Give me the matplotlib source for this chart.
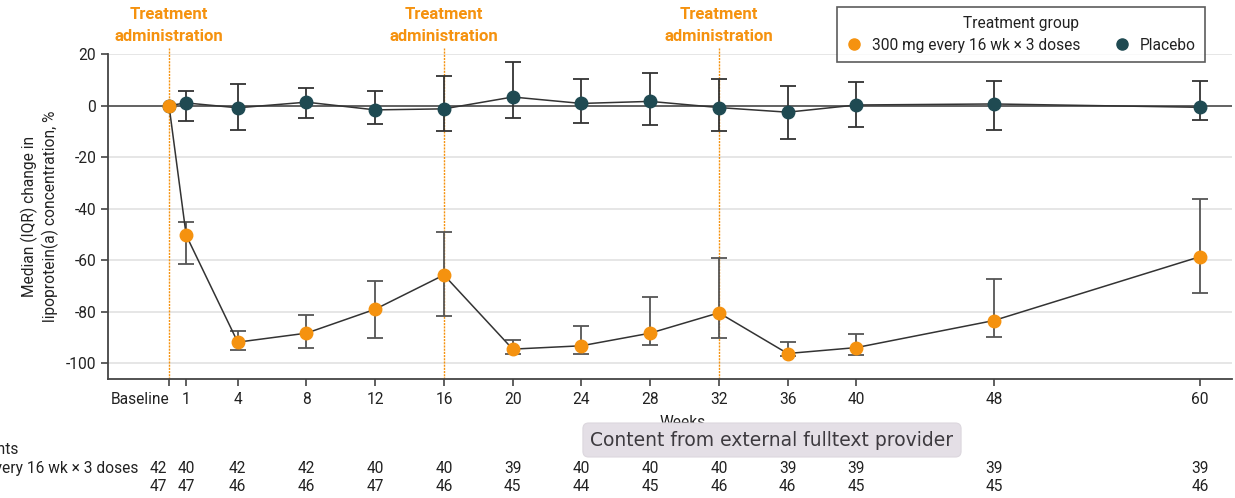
import matplotlib
matplotlib.use('Agg')
import matplotlib.pyplot as plt
import matplotlib.transforms as mtransforms
import numpy as np
from matplotlib.lines import Line2D

# ---------------- data ----------------
weeks = [0, 1, 4, 8, 12, 16, 20, 24, 28, 32, 36, 40, 48, 60]
week_labels = ['Baseline', '1', '4', '8', '12', '16', '20', '24', '28', '32', '36', '40', '48', '60']

trt_median = [0, -50.4, -91.9, -88.4, -79.1, -65.8, -94.6, -93.3, -88.4, -80.5, -96.3, -94.0, -83.5, -58.7]
trt_q1 = [np.nan, -61.6, -95.1, -94.2, -90.2, -81.6, -96.5, -96.4, -93.0, -90.2, -97.3, -96.9, -89.7, -72.8]
trt_q3 = [np.nan, -45.3, -87.5, -81.4, -68.1, -49.2, -91.0, -85.8, -74.3, -59.2, -92.0, -88.9, -67.4, -36.2]

pbo_median = [0, 1.0, -0.9, 1.3, -1.7, -1.3, 3.3, 0.8, 1.6, -0.8, -2.6, 0.2, 0.6, -0.7]
pbo_q1 = [np.nan, -6.1, -9.6, -4.8, -7.0, -9.8, -4.8, -6.9, -7.6, -10.0, -13.2, -8.3, -9.5, -5.7]
pbo_q3 = [np.nan, 5.5, 8.4, 6.7, 5.5, 11.6, 16.7, 10.2, 12.5, 10.3, 7.5, 9.0, 9.5, 9.4]

dose_weeks = [0, 16, 32]
trt_n = [42, 40, 42, 42, 40, 40, 39, 40, 40, 40, 39, 39, 39, 39]
pbo_n = [47, 47, 46, 46, 47, 46, 45, 44, 45, 46, 46, 45, 45, 46]

yticks = [20, 0, -20, -40, -60, -80, -100]
trt_name = '300 mg every 16 wk \u00d7 3 doses'
pbo_name = 'Placebo'

# ---------------- style ----------------
plt.rcParams['font.family'] = ['Roboto', 'DejaVu Sans']
FS = 11.2

ORANGE = '#F5920F'
TEAL = '#1F4A52'
TXT = '#222222'

W, H = 1235, 498
fig = plt.figure(figsize=(W / 100, H / 100), dpi=100)
ax = fig.add_axes([108 / W, 1 - 379 / H, (1232 - 108) / W, (379 - 54) / H])

ax.set_xlim(-3.55, 61.86)
ax.set_ylim(-106.2, 20)

# grid
for yv in yticks:
    if yv == 0:
        ax.axhline(0, color='#555555', lw=1.3, zorder=1)
    else:
        ax.axhline(yv, color='#e6e6e6', lw=1.4, zorder=0)

# dose lines and labels
tf = mtransforms.blended_transform_factory(ax.transData, fig.transFigure)
for dw in dose_weeks:
    ax.plot([dw, dw], [-106.2, 22.3], color=ORANGE, lw=1.0, ls=(0, (1.5, 0.8)),
            zorder=1.5, clip_on=False)
    ax.text(dw, 1 - 7 / H, 'Treatment\nadministration', transform=tf,
            ha='center', va='top', color=ORANGE, fontsize=12, fontweight='bold',
            linespacing=1.55)

# placebo series
pm = np.array(pbo_median)
ax.errorbar(weeks, pbo_median, yerr=[pm - np.array(pbo_q1), np.array(pbo_q3) - pm],
            fmt='none', ecolor='#333333', elinewidth=1.3, capsize=5.5, capthick=1.3, zorder=3)
ax.plot(weeks, pbo_median, color='#333333', lw=1.1, zorder=3)
ax.plot(weeks, pbo_median, 'o', color=TEAL, ms=9, mec=TEAL, zorder=4)

# treatment series
tm = np.array(trt_median)
ax.errorbar(weeks, trt_median, yerr=[tm - np.array(trt_q1), np.array(trt_q3) - tm],
            fmt='none', ecolor='#555555', elinewidth=1.3, capsize=5.5, capthick=1.3, zorder=3)
ax.plot(weeks, trt_median, color='#333333', lw=1.1, zorder=3)
ax.plot(weeks, trt_median, 'o', color=ORANGE, ms=9, mec=ORANGE, zorder=5)

# axes cosmetics
for s in ['top', 'right']:
    ax.spines[s].set_visible(False)
for s in ['left', 'bottom']:
    ax.spines[s].set_color('#444444')
    ax.spines[s].set_linewidth(1.3)
ax.set_yticks(yticks)
ax.set_yticklabels([str(v) for v in yticks])
ax.set_xticks(weeks)
ax.set_xticklabels(week_labels)
ax.get_xticklabels()[0].set_ha('right')
ax.tick_params(axis='both', colors='#444444', labelcolor=TXT, labelsize=FS, width=1.2, length=5)
ax.tick_params(axis='x', pad=4)
ax.set_ylabel('Median (IQR) change in\nlipoprotein(a) concentration, %', fontsize=FS,
              color=TXT, labelpad=5, linespacing=1.25)
ax.set_xlabel('Weeks', fontsize=FS, color=TXT, va='top')
ax.xaxis.set_label_coords((683 - 108) / (1232 - 108), (379 - 415) / (379 - 54))

# legend
handles = [Line2D([], [], marker='o', ls='none', color=ORANGE, ms=8),
           Line2D([], [], marker='o', ls='none', color=TEAL, ms=8)]
leg = fig.legend(handles, [trt_name, pbo_name], ncol=2, title='Treatment group',
                 loc='upper left', bbox_to_anchor=(836.5 / W, 1 - 6.5 / H),
                 borderaxespad=0, frameon=True, fancybox=False, edgecolor='#333333',
                 fontsize=FS, title_fontsize=FS, handlelength=1.0, handletextpad=0.66,
                 columnspacing=2.2, borderpad=0.6, labelspacing=0.45)
leg.get_frame().set_linewidth(1.2)
for t in leg.get_texts():
    t.set_color(TXT)
leg.get_title().set_color(TXT)

# number at risk table
fig.text(18 / W, 1 - 449 / H, 'No. of patients', ha='right', va='center', fontsize=FS, color=TXT)
lab = fig.text(138 / W, 1 - 468 / H, trt_name, ha='right', va='center', fontsize=FS, color=TXT)
fig.canvas.draw()
bb = lab.get_window_extent()
fig.text(bb.x0 / W, 1 - 486 / H, pbo_name, ha='left', va='center', fontsize=FS, color=TXT)
for i, w in enumerate(weeks):
    xw = w - 0.6 if i == 0 else w
    ax.text(xw, 1 - 468 / H, str(trt_n[i]), transform=tf, ha='center', va='center',
            fontsize=FS, color=TXT)
    ax.text(xw, 1 - 486 / H, str(pbo_n[i]), transform=tf, ha='center', va='center',
            fontsize=FS, color=TXT)

# overlay tooltip (present in reference screenshot)
fig.text(772 / W, 1 - 440 / H, 'Content from external fulltext provider', ha='center', va='center',
         fontsize=13.5, color='#3d3a3f', family=['DejaVu Sans'], zorder=20,
         bbox=dict(boxstyle='round,pad=0.4,rounding_size=0.3', fc='#e4dfe6', ec='#dcd7de', lw=0.8))

fig.savefig('out.png', dpi=100)
